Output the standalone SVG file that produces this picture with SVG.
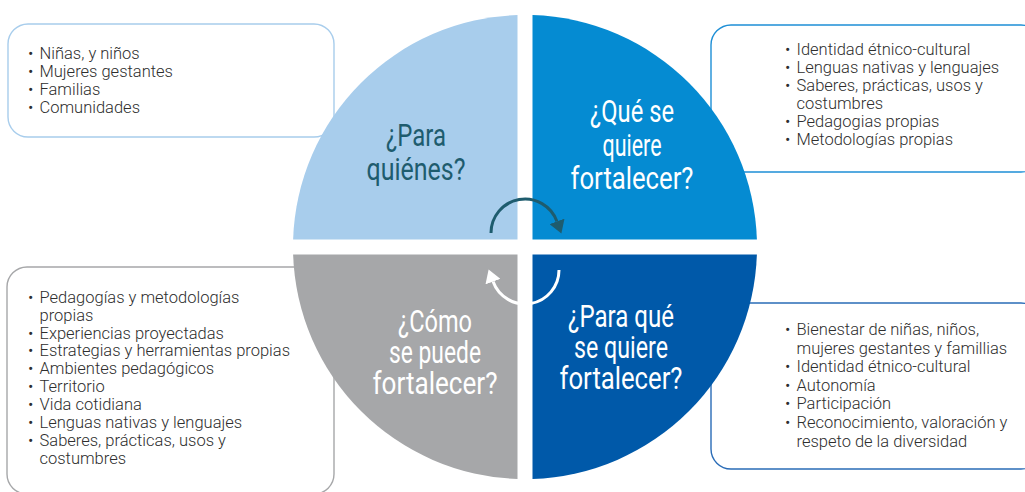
<svg xmlns="http://www.w3.org/2000/svg" width="1025" height="492" viewBox="0 0 1025 492">
<style>
.box{fill:#fff;stroke-width:1.4}
.li{font-family:Roboto,"Liberation Sans",sans-serif;font-weight:300;font-size:16.5px;fill:#2e2e2e}
.lbl{font-family:Roboto,"Liberation Sans",sans-serif;font-weight:400;font-size:31px;text-anchor:middle}
.w{fill:#fff}
.d{fill:#1e5c6e}
</style>
<defs>
<marker id="ahDark" markerUnits="userSpaceOnUse" viewBox="0 0 13 16" refX="0" refY="8" markerWidth="13" markerHeight="16" orient="auto"><path d="M0,0 L13,8 L0,16 z" fill="#1e5c6e"/></marker>
<marker id="ahWhite" markerUnits="userSpaceOnUse" viewBox="0 0 13 16" refX="0" refY="8" markerWidth="13" markerHeight="16" orient="auto"><path d="M0,0 L13,8 L0,16 z" fill="#fff"/></marker>
</defs>
<rect width="1025" height="492" fill="#fff"/>

<g id="box-para-quienes">
<rect class="box" x="8" y="24" width="326" height="113" rx="20" stroke="#a8cdec"/>
<g class="li">
<text x="28" y="58.5">•</text><text x="39.5" y="58.5">Niñas, y niños</text>
<text x="28" y="76.7">•</text><text x="39.5" y="76.7">Mujeres gestantes</text>
<text x="28" y="94.9">•</text><text x="39.5" y="94.9">Familias</text>
<text x="28" y="113.1">•</text><text x="39.5" y="113.1">Comunidades</text>
</g>
</g>

<g id="box-que-fortalecer">
<rect class="box" x="711" y="25" width="330" height="147" rx="20" stroke="#1e8fd6"/>
<g class="li">
<text x="785" y="55">•</text><text x="796.5" y="55">Identidad étnico-cultural</text>
<text x="785" y="73">•</text><text x="796.5" y="73">Lenguas nativas y lenguajes</text>
<text x="785" y="91">•</text><text x="796.5" y="91">Saberes, prácticas, usos y</text>
<text x="796.5" y="109">costumbres</text>
<text x="785" y="127">•</text><text x="796.5" y="127">Pedagogias propias</text>
<text x="785" y="145">•</text><text x="796.5" y="145">Metodologías propias</text>
</g>
</g>

<g id="box-como-fortalecer">
<rect class="box" x="7" y="267" width="327" height="227" rx="20" stroke="#a6a7a9"/>
<g class="li">
<text x="28" y="302.7">•</text><text x="39.5" y="302.7">Pedagogías y metodologías</text>
<text x="39.5" y="320.6">propias</text>
<text x="28" y="338.5">•</text><text x="39.5" y="338.5">Experiencias proyectadas</text>
<text x="28" y="356.4">•</text><text x="39.5" y="356.4">Estrategias y herramientas propias</text>
<text x="28" y="374.3">•</text><text x="39.5" y="374.3">Ambientes pedagógicos</text>
<text x="28" y="392.2">•</text><text x="39.5" y="392.2">Territorio</text>
<text x="28" y="410.1">•</text><text x="39.5" y="410.1">Vida cotidiana</text>
<text x="28" y="428">•</text><text x="39.5" y="428">Lenguas nativas y lenguajes</text>
<text x="28" y="445.9">•</text><text x="39.5" y="445.9">Saberes, prácticas, usos y</text>
<text x="39.5" y="463.8">costumbres</text>
</g>
</g>

<g id="box-para-que">
<rect class="box" x="711" y="303" width="330" height="166" rx="20" stroke="#2a6cb7"/>
<g class="li">
<text x="785" y="335">•</text><text x="796.5" y="335">Bienestar de niñas, niños,</text>
<text x="796.5" y="353.6">mujeres gestantes y famillias</text>
<text x="785" y="372.2">•</text><text x="796.5" y="372.2">Identidad étnico-cultural</text>
<text x="785" y="390.8">•</text><text x="796.5" y="390.8">Autonomía</text>
<text x="785" y="409.4">•</text><text x="796.5" y="409.4">Participación</text>
<text x="785" y="428">•</text><text x="796.5" y="428">Reconocimiento, valoración y</text>
<text x="796.5" y="446.6">respeto de la diversidad</text>
</g>
</g>

<g id="q-para-quienes">
<path d="M517.5,239.5 H293.12 A232,232 0 0 1 517.5,15.12 Z" fill="#a8cdec"/>
<text class="lbl d" x="416" y="146" textLength="60" lengthAdjust="spacingAndGlyphs">¿Para</text>
<text class="lbl d" x="416" y="180" textLength="99" lengthAdjust="spacingAndGlyphs">quiénes?</text>
</g>
<g id="q-que-fortalecer">
<path d="M532.5,239.5 V15.12 A232,232 0 0 1 756.88,239.5 Z" fill="#058bd2"/>
<text class="lbl w" x="632" y="122" textLength="84" lengthAdjust="spacingAndGlyphs">¿Qué se</text>
<text class="lbl w" x="632" y="156" textLength="59" lengthAdjust="spacingAndGlyphs">quiere</text>
<text class="lbl w" x="632" y="189" textLength="123" lengthAdjust="spacingAndGlyphs">fortalecer?</text>
</g>
<g id="q-para-que">
<path d="M532.5,254.5 H756.88 A232,232 0 0 1 532.5,478.88 Z" fill="#0059a9"/>
<text class="lbl w" x="621" y="327" textLength="106" lengthAdjust="spacingAndGlyphs">¿Para qué</text>
<text class="lbl w" x="621" y="358" textLength="94" lengthAdjust="spacingAndGlyphs">se quiere</text>
<text class="lbl w" x="621" y="389" textLength="123" lengthAdjust="spacingAndGlyphs">fortalecer?</text>
</g>
<g id="q-como">
<path d="M517.5,254.5 V478.88 A232,232 0 0 1 293.12,254.5 Z" fill="#a6a7a9"/>
<text class="lbl w" x="435" y="332" textLength="74" lengthAdjust="spacingAndGlyphs">¿Cómo</text>
<text class="lbl w" x="435" y="363" textLength="92" lengthAdjust="spacingAndGlyphs">se puede</text>
<text class="lbl w" x="435" y="394" textLength="125" lengthAdjust="spacingAndGlyphs">fortalecer?</text>
</g>

<g id="connectors" fill="none" stroke-width="3">
<path d="M491,233 A34,34 0 0 1 556.95,221.4" stroke="#1e5c6e" marker-end="url(#ahDark)"/>
<path d="M559,270 A34,34 0 0 1 493.05,281.6" stroke="#fff" marker-end="url(#ahWhite)"/>
</g>
</svg>
